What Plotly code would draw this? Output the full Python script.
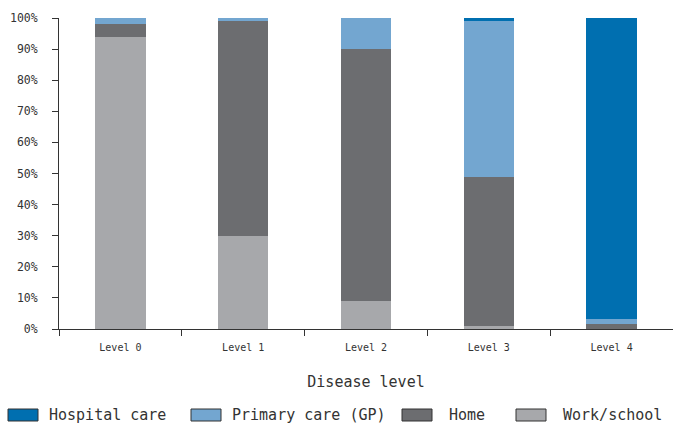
import plotly.graph_objects as go

categories = ["Level 0", "Level 1", "Level 2", "Level 3", "Level 4"]
work_school = [94, 30, 9, 1, 0]
home = [4, 69, 81, 48, 1.7]
primary_care = [2, 1, 10, 50, 1.5]
hospital_care = [0, 0, 0, 1, 96.8]
y_ticks = [0, 10, 20, 30, 40, 50, 60, 70, 80, 90, 100]
y_tick_labels = [f"{v}%" for v in y_ticks]

series = [
    ("Work/school", work_school, "#A7A8AB"),
    ("Home", home, "#6C6D70"),
    ("Primary care (GP)", primary_care, "#73A6D0"),
    ("Hospital care", hospital_care, "#006FB0"),
]

W, H = 673, 423
L, R, T, B = 59, 0, 18, 94
pw, ph = W - L - R, H - T - B

def px_x(x):
    return (x - L) / pw

def px_y(y):
    return (H - B - y) / ph

fig = go.Figure()
for name, vals, color in series:
    fig.add_trace(go.Bar(x=categories, y=vals, name=name, marker=dict(color=color, line=dict(width=0)),
                         width=0.41, showlegend=False))

# custom legend
legend_items = [("Hospital care", "#006FB0", 8, 47), ("Primary care (GP)", "#73A6D0", 191, 230),
                ("Home", "#6C6D70", 402, 447), ("Work/school", "#A7A8AB", 516, 561)]
shapes = []
annotations = []
for label, color, bx, tx in legend_items:
    shapes.append(dict(type="rect", xref="paper", yref="paper", x0=px_x(bx), x1=px_x(bx + 30),
                       y0=px_y(421), y1=px_y(409), fillcolor=color, line=dict(color="#333333", width=1)))
    annotations.append(dict(text=label, xref="paper", yref="paper", x=px_x(tx), y=px_y(415), xanchor="left",
                            yanchor="middle", showarrow=False, font=dict(family="DejaVu Sans Mono", size=15, color="#333333")))

fig.update_layout(
    barmode="stack",
    width=W, height=H,
    margin=dict(l=L, r=R, t=T, b=B),
    paper_bgcolor="white", plot_bgcolor="white",
    shapes=shapes, annotations=annotations,
    xaxis=dict(range=[-0.5, 4.5], showline=True, linecolor="#333333", linewidth=1, ticks="outside",
               tickson="boundaries", ticklen=6, tickcolor="#333333", showgrid=False, ticklabelstandoff=9,
               tickfont=dict(family="DejaVu Sans Mono", size=10, color="#333333"),
               title=dict(text="Disease level", font=dict(family="DejaVu Sans Mono", size=15, color="#333333"), standoff=24)),
    yaxis=dict(range=[0, 100], tickvals=y_ticks, ticktext=y_tick_labels, showline=True, linecolor="#333333",
               linewidth=1, ticks="outside", ticklen=6, tickcolor="#333333", showgrid=False, zeroline=False,
               ticklabelstandoff=12,
               tickfont=dict(family="DejaVu Sans Mono", size=11.5, color="#333333")),
)
fig.write_html("out.html", config={"displayModeBar": False},
               post_script="document.body.style.margin='0';document.body.style.overflow='hidden';")
